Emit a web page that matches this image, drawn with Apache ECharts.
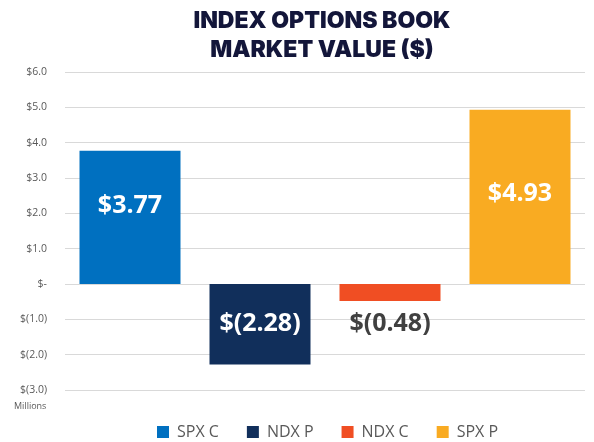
<!DOCTYPE html>
<html><head><meta charset="utf-8">
<script src="https://cdn.jsdelivr.net/npm/echarts@6/dist/echarts.min.js"></script>
<style>html,body{margin:0;padding:0;background:#fff}#c{width:594px;height:442px}</style>
</head><body><div id="c"></div>
<script>
const categories = ['SPX C', 'NDX P', 'NDX C', 'SPX P'];
const values = [3.77, -2.28, -0.48, 4.93];
const colors = ['#0070C0', '#112F5B', '#F04E23', '#F9AB22'];
const yMin = -3, yMax = 6, yStep = 1;

function fmtVal(v){ return v < 0 ? '$(' + Math.abs(v).toFixed(2) + ')' : '$' + v.toFixed(2); }
function fmtAxis(v){ if (Math.abs(v) < 1e-9) return '$-'; return v < 0 ? '$(' + Math.abs(v).toFixed(1) + ')' : '$' + v.toFixed(1); }

const labelOffsets = [[0, -12], [0, 0], [0, 0], [0, -3]];

const series = categories.map((name, i) => ({
  name: name,
  type: 'bar',
  stack: 'all',
  barWidth: 101,
  itemStyle: { color: colors[i] },
  label: {
    show: true,
    position: values[i] < 0 && Math.abs(values[i]) < 1 ? 'bottom' : 'inside',
    distance: 10,
    offset: labelOffsets[i],
    color: values[i] < 0 && Math.abs(values[i]) < 1 ? '#404040' : '#ffffff',
    fontFamily: 'Open Sans',
    fontWeight: 'bold',
    fontSize: 25,
    formatter: p => fmtVal(p.value)
  },
  data: categories.map((c, j) => j === i ? values[i] : '-')
}));

const chart = echarts.init(document.getElementById('c'), null, { renderer: 'canvas' });
chart.setOption({
  animation: false,
  title: {
    text: 'INDEX OPTIONS BOOK\nMARKET VALUE ($)',
    left: 317, textAlign: 'center', top: 2,
    textStyle: { fontFamily: 'Inter', fontWeight: 900, fontSize: 23, color: '#13163A', lineHeight: 29 }
  },
  legend: {
    bottom: -3, left: 152,
    itemWidth: 12, itemHeight: 12, itemGap: 28,
    icon: 'rect',
    textStyle: { fontFamily: 'Open Sans', fontSize: 16, color: '#595959', padding: [0, 0, 0, 3] },
    data: categories
  },
  graphic: [{ type: 'text', left: 14, top: 402, style: { text: 'Millions', fontSize: 9, fontFamily: 'Open Sans', fill: '#595959' } }],
  grid: { left: 65, right: 9, top: 72, bottom: 52 },
  xAxis: {
    type: 'category', data: categories,
    axisLine: { show: false }, axisTick: { show: false }, axisLabel: { show: false }
  },
  yAxis: {
    type: 'value', min: yMin, max: yMax, interval: yStep,
    axisLine: { show: false }, axisTick: { show: false },
    splitLine: { lineStyle: { color: '#D9D9D9', width: 1 } },
    axisLabel: { margin: 18, fontFamily: 'Open Sans', fontSize: 10.5, color: '#595959', formatter: fmtAxis }
  },
  series: series
});
</script></body></html>
